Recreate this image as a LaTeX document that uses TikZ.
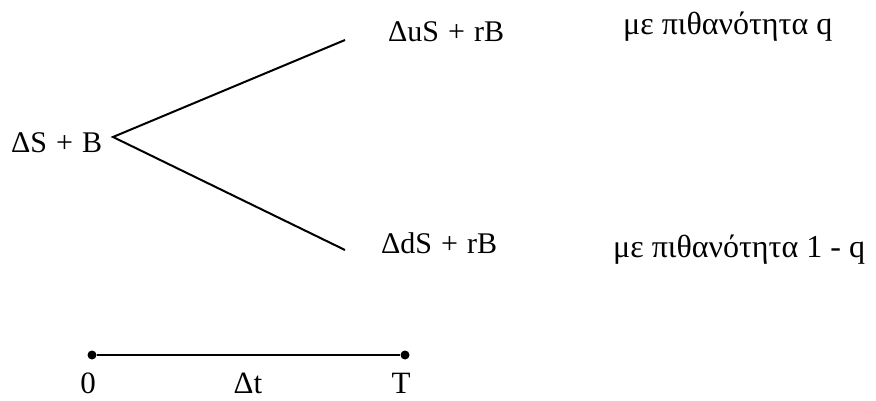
\documentclass[tikz,border=0pt]{standalone}
\usepackage{fontspec}
\setmainfont{Liberation Serif}
\newcommand{\pl}{\hspace{0.3em}+\hspace{0.3em}}
\begin{document}
\begin{tikzpicture}[x=1pt,y=-1pt,
  mathlbl/.style={anchor=base west,inner sep=0pt,font=\fontsize{30}{32}\selectfont},
  problbl/.style={anchor=base west,inner sep=0pt,font=\fontsize{32}{34}\selectfont},
  timelbl/.style={anchor=base,inner sep=0pt,font=\fontsize{31}{33}\selectfont},
  branch/.style={line width=2pt},
  dotpt/.style={circle,fill=black,inner sep=0pt,minimum size=9pt}]
\useasboundingbox (0,0) rectangle (876,401);
\coordinate (root) at (113,137);
\coordinate (upend) at (345,40);
\coordinate (downend) at (345,250);
\node[mathlbl] (s0) at (11,153) {ΔS\pl B};
\node[mathlbl] (su) at (388,42) {ΔuS\pl rB};
\node[mathlbl] (sd) at (381,253) {ΔdS\pl rB};
\node[problbl] (pu) at (623,35) {με πιθανότητα q};
\node[problbl] (pd) at (613,257) {με πιθανότητα 1 - q};
\draw[branch] (upend) -- (root) -- (downend);
\node[dotpt] (t0) at (92,355) {};
\node[dotpt] (t1) at (405,355) {};
\draw[branch] (t0) -- (t1);
\node[timelbl] (l0) at (88,393) {0};
\node[timelbl] (ldt) at (248,393) {Δt};
\node[timelbl] (lT) at (401,393) {T};
\end{tikzpicture}
\end{document}
